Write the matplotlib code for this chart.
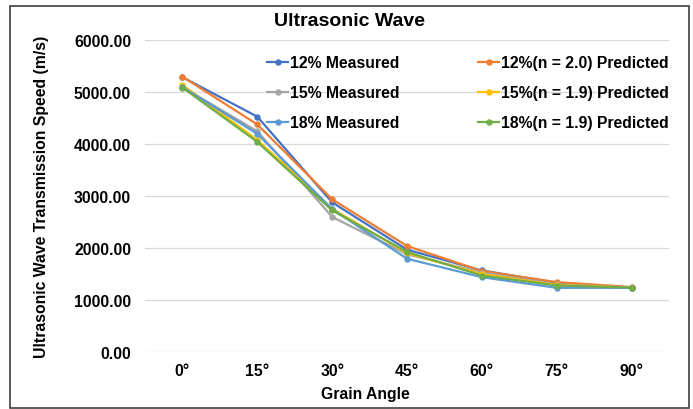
import matplotlib
matplotlib.use("Agg")
import matplotlib.pyplot as plt
from matplotlib.patches import Rectangle

plt.rcParams['font.family'] = ['Liberation Sans', 'DejaVu Sans']

categories = ["0°", "15°", "30°", "45°", "60°", "75°", "90°"]
m12 = [5290, 4530, 2880, 1970, 1570, 1330, 1240]
p12 = [5300, 4380, 2940, 2040, 1560, 1345, 1250]
m15 = [5100, 4250, 2600, 1880, 1530, 1300, 1240]
p15 = [5140, 4080, 2760, 1900, 1500, 1290, 1240]
m18 = [5100, 4200, 2750, 1795, 1440, 1235, 1235]
p18 = [5090, 4045, 2726, 1925, 1472, 1280, 1240]

series = [
    ("12% Measured", m12, "#4472C4"),
    ("15% Measured", m15, "#A5A5A5"),
    ("18% Measured", m18, "#5B9BD5"),
    ("12%(n = 2.0) Predicted", p12, "#ED7D31"),
    ("15%(n = 1.9) Predicted", p15, "#FFC000"),
    ("18%(n = 1.9) Predicted", p18, "#70AD47"),
]
draw_order = [0, 3, 1, 4, 2, 5]

FS = 11.3
fig = plt.figure(figsize=(6.93, 4.10), dpi=100)
ax = fig.add_axes([145/693, 1-353/410, (669-145)/693, (353-41.3)/410])

x = list(range(len(categories)))
handles = {}
for i in draw_order:
    label, vals, col = series[i]
    h, = ax.plot(x, vals, color=col, lw=1.6, marker='o', ms=3.6, label=label, zorder=3)
    handles[i] = h

ax.set_xlim(-0.5, len(categories) - 0.5)
ax.set_ylim(0, 6000)
ax.set_yticks(range(0, 6001, 1000))
ax.set_yticklabels([f"{v:.2f}" for v in range(0, 6001, 1000)], fontsize=FS, fontweight='bold')
ax.set_xticks(x)
ax.set_xticklabels(categories, fontsize=FS, fontweight='bold')
ax.tick_params(axis='y', length=0, pad=10)
ax.tick_params(axis='x', length=0, pad=8)
ax.grid(axis='y', color='#D9D9D9', lw=0.9)
ax.set_axisbelow(True)
for s in ax.spines.values():
    s.set_visible(False)

fig.text(42/693, 1-197/410, "Ultrasonic Wave Transmission Speed (m/s)", rotation=90,
         ha='center', va='center', fontsize=FS, fontweight='bold')
fig.text(365/693, 1-395/410, "Grain Angle", ha='center', va='center', fontsize=FS, fontweight='bold')
fig.text(350/693, 1-22/410, "Ultrasonic Wave", ha='center', va='center', fontsize=14, fontweight='bold')

leg = ax.legend([handles[i] for i in range(6)], [series[i][0] for i in range(6)],
                ncol=2, loc='upper left', bbox_to_anchor=((267-145)/524, 1-(56-41.3)/311.7),
                frameon=False, prop={'weight': 'bold', 'size': FS},
                handlelength=1.35, handletextpad=0.13, columnspacing=5.0, labelspacing=0.96,
                borderaxespad=0, borderpad=0)

fig.patches.append(Rectangle((10/693, 1-409/410), 679/693, 402/410, transform=fig.transFigure,
                             fill=False, edgecolor='#404040', lw=1.2))

fig.savefig("out.png", dpi=100)
